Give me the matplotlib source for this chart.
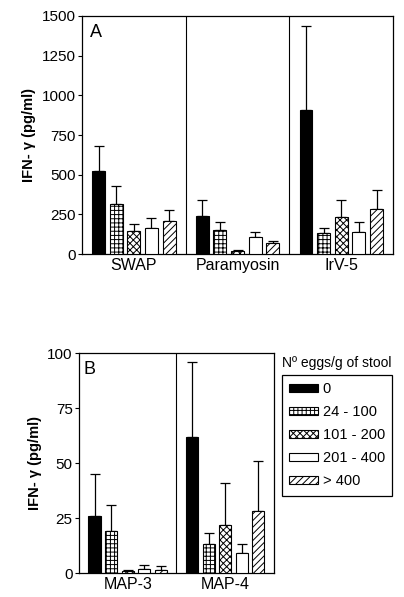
import numpy as np
import matplotlib
matplotlib.use('Agg')
import matplotlib.pyplot as plt
from matplotlib.patches import Patch

plt.rcParams['font.family'] = ['Liberation Sans', 'DejaVu Sans']
plt.rcParams['hatch.linewidth'] = 0.7

# egg count groups (legend)
groups = ['0', '24 - 100', '101 - 200', '201 - 400', '> 400']
hatches = [None, '++++', 'xxxxx', None, '/////']
faces = ['black', 'white', 'white', 'white', 'white']

# panel A
antigens_a = ['SWAP', 'Paramyosin', 'IrV-5']
means_a = [[525, 240, 910],
           [315, 150, 130],
           [145, 20, 235],
           [165, 105, 140],
           [205, 70, 285]]
tops_a = [[680, 340, 1435],
          [430, 200, 165],
          [190, 28, 340],
          [225, 140, 200],
          [275, 80, 405]]

# panel B
antigens_b = ['MAP-3', 'MAP-4']
means_b = [[26, 62],
           [19, 13],
           [1.0, 22],
           [2.0, 9],
           [1.5, 28]]
tops_b = [[45, 96],
          [31, 18],
          [1.4, 41],
          [3.5, 13],
          [3.0, 51]]

fig = plt.figure(figsize=(4.04, 5.97), dpi=100)
ax_a = fig.add_axes([0.203, 0.5745, 0.770, 0.3987])
ax_b = fig.add_axes([0.1955, 0.0402, 0.4827, 0.3685])


def draw_panel(ax, names, means, tops, ymax, yticks, letter):
    n = len(names)
    x = np.arange(n)
    step = 0.17
    width = 0.125
    for i in range(len(groups)):
        m = np.array(means[i], dtype=float)
        t = np.array(tops[i], dtype=float)
        pos = x + (i - 2) * step
        ax.bar(pos, m, width, color=faces[i], edgecolor='black',
               hatch=hatches[i], linewidth=0.8, zorder=3)
        # upper error bar only
        ax.errorbar(pos, m, yerr=[np.zeros(n), t - m], fmt='none',
                    ecolor='black', elinewidth=0.9, capsize=3.5,
                    capthick=0.9, zorder=2)
    for d in x[:-1] + 0.5:
        ax.axvline(d, color='black', lw=0.8)
    ax.set_xlim(-0.5, n - 0.5)
    ax.set_ylim(0, ymax)
    ax.set_yticks(yticks)
    ax.set_xticks(x)
    ax.set_xticklabels(names, fontsize=11.5)
    ax.tick_params(axis='x', length=0, pad=3)
    ax.tick_params(axis='y', direction='out', length=3, width=0.8,
                   labelsize=11, pad=1.5)
    for s in ax.spines.values():
        s.set_linewidth(0.9)
    ax.set_ylabel('IFN- γ (pg/ml)', fontsize=10.5, fontweight='bold',
                  labelpad=4)
    ax.text(0.025, 0.965, letter, transform=ax.transAxes, fontsize=13,
            va='top', ha='left')


draw_panel(ax_a, antigens_a, means_a, tops_a, 1500,
           [0, 250, 500, 750, 1000, 1250, 1500], 'A')
draw_panel(ax_b, antigens_b, means_b, tops_b, 100,
           [0, 25, 50, 75, 100], 'B')

handles = [Patch(facecolor=faces[i], edgecolor='black', hatch=hatches[i],
                 linewidth=0.8) for i in range(len(groups))]
leg = fig.legend(handles, groups, loc='upper left',
                 bbox_to_anchor=(0.698, 0.372), borderaxespad=0,
                 fontsize=10.5, handlelength=2.0, handleheight=0.4,
                 labelspacing=0.62, handletextpad=0.3, borderpad=0.5,
                 fancybox=False, framealpha=1, edgecolor='black')
leg.get_frame().set_linewidth(0.9)
fig.text(0.698, 0.392, 'Nº eggs/g of stool', fontsize=10, va='center',
         ha='left')

fig.savefig('out.png', dpi=100)
